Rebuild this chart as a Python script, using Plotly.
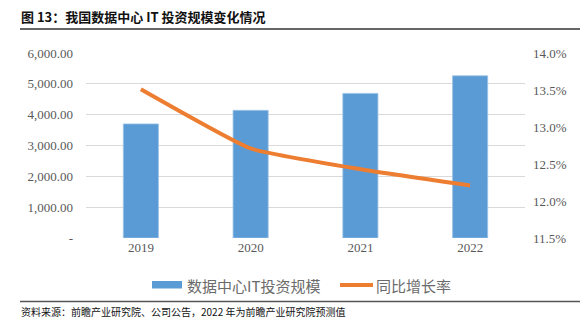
import plotly.graph_objects as go

years = ["2019", "2020", "2021", "2022"]
invest = [3700, 4140, 4690, 5260]
growth = [13.51, 12.71, 12.43, 12.21]

left_vals = [0, 1000, 2000, 3000, 4000, 5000, 6000]
left_text = ["-", "1,000.00", "2,000.00", "3,000.00", "4,000.00", "5,000.00", "6,000.00"]
right_vals = [11.5, 12.0, 12.5, 13.0, 13.5, 14.0]
right_text = ["11.5%", "12.0%", "12.5%", "13.0%", "13.5%", "14.0%"]

title_text = "图 13：我国数据中心 IT 投资规模变化情况"
source_text = "资料来源：前瞻产业研究院、公司公告，2022 年为前瞻产业研究院预测值"
series_names = ["数据中心IT投资规模", "同比增长率"]

W, H = 580, 328
L, R, T, B = 86, 55, 53, 90
pw, ph = W - L - R, H - T - B

def px(x):
    return (x - L) / pw

def py(y):
    return (H - B - y) / ph

fig = go.Figure()
fig.add_trace(go.Bar(
    x=years, y=invest, name=series_names[0],
    marker=dict(color="#5b9bd5", line=dict(color="#9cc3e6", width=0.8)),
    yaxis="y", showlegend=False,
))
fig.add_trace(go.Scatter(
    x=years, y=growth, name=series_names[1], mode="lines",
    line=dict(color="#ed7d31", width=4, shape="spline", smoothing=0.4),
    yaxis="y2", showlegend=False,
))

gray = "#595959"
tickfont = dict(family="Liberation Serif, Times New Roman, serif", size=13, color=gray)
fig.update_layout(
    width=W, height=H,
    margin=dict(l=L, r=R, t=T, b=B),
    paper_bgcolor="white", plot_bgcolor="white",
    bargap=0.68,
    xaxis=dict(type="category", tickfont=tickfont, showgrid=False, ticks="",
               showline=False, zeroline=False),
    yaxis=dict(range=[0, 6000], tickvals=left_vals, ticktext=left_text,
               tickfont=tickfont, showgrid=True, gridcolor="#d9d9d9", gridwidth=1,
               zeroline=False, showline=False, ticks="", ticklabelstandoff=12),
    yaxis2=dict(range=[11.5, 14.0], tickvals=right_vals, ticktext=right_text,
                tickfont=tickfont, overlaying="y", side="right", showgrid=False,
                zeroline=False, showline=False, ticks="", ticklabelstandoff=7),
    font=dict(family="Noto Sans CJK SC"),
)

shapes = [
    dict(type="line", xref="paper", yref="paper", x0=px(20), x1=px(580), y0=py(29), y1=py(29),
         line=dict(color="#333333", width=1.3)),
    dict(type="line", xref="paper", yref="paper", x0=px(20), x1=px(580), y0=py(301.5), y1=py(301.5),
         line=dict(color="#555555", width=1.3)),
    dict(type="rect", xref="paper", yref="paper", x0=px(152), x1=px(182), y0=py(288.5), y1=py(281),
         fillcolor="#5b9bd5", line=dict(width=0)),
    dict(type="line", xref="paper", yref="paper", x0=px(340), x1=px(373), y0=py(285), y1=py(285),
         line=dict(color="#ed7d31", width=4)),
]
fig.update_layout(shapes=shapes)

annotations = [
    dict(text="<b>" + title_text + "</b>", xref="paper", yref="paper", x=px(19), y=py(16),
         xanchor="left", yanchor="middle", showarrow=False,
         font=dict(family="Noto Sans CJK SC", size=13, color="#111111")),
    dict(text=source_text, xref="paper", yref="paper", x=px(19), y=py(311),
         xanchor="left", yanchor="middle", showarrow=False,
         font=dict(family="Noto Sans CJK SC", size=10, color="#111111")),
    dict(text=series_names[0], xref="paper", yref="paper", x=px(185), y=py(285),
         xanchor="left", yanchor="middle", showarrow=False,
         font=dict(family="Noto Sans CJK SC", size=15, color="#6b6b6b")),
    dict(text=series_names[1], xref="paper", yref="paper", x=px(374), y=py(285),
         xanchor="left", yanchor="middle", showarrow=False,
         font=dict(family="Noto Sans CJK SC", size=15, color="#6b6b6b")),
]
fig.update_layout(annotations=annotations)

fig.write_html("out.html")
